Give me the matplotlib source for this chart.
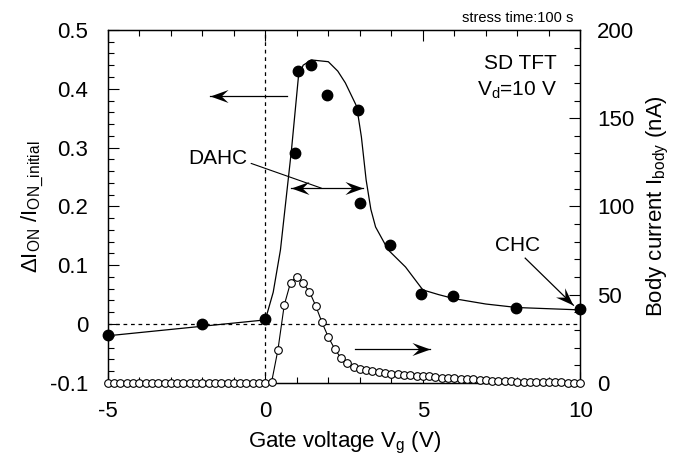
import numpy as np
import matplotlib
matplotlib.use('Agg')
import matplotlib.pyplot as plt
from matplotlib.ticker import MultipleLocator, FixedFormatter, FixedLocator
from matplotlib.path import Path
from matplotlib.markers import MarkerStyle
from matplotlib.transforms import Affine2D

plt.rcParams['font.family'] = ['Liberation Sans', 'DejaVu Sans']
plt.rcParams['mathtext.fontset'] = 'custom'
plt.rcParams['mathtext.rm'] = 'Liberation Sans'
plt.rcParams['mathtext.it'] = 'Liberation Sans:italic'
plt.rcParams['axes.unicode_minus'] = False

# degradation (left axis), measured points
vg_deg = [-5, -2, 0, 0.95, 1.05, 1.45, 1.95, 2.95, 3.0, 3.95, 4.95, 5.95, 7.95, 10]
deg = [-0.019, 0.0, 0.009, 0.291, 0.43, 0.44, 0.39, 0.364, 0.206, 0.134, 0.051, 0.048, 0.028, 0.025]

# guide curve through the degradation points
vg_fit = [-5, 0, 0.25, 0.48, 0.83, 1.05, 1.2, 1.46, 2.0, 2.3, 2.54, 2.9, 3.05, 3.2, 3.35,
          3.5, 3.9, 4.45, 5.0, 5.5, 6.0, 7.0, 8.0, 10.0]
deg_fit = [-0.02, 0.007, 0.054, 0.126, 0.296, 0.42, 0.44, 0.449, 0.446, 0.43, 0.41, 0.37,
           0.318, 0.245, 0.195, 0.165, 0.126, 0.097, 0.058, 0.05, 0.043, 0.034, 0.028, 0.024]

# body current (right axis), Vg step 0.2 V
vg_body = np.round(np.arange(-5, 10.01, 0.2), 2)
ibody = [0] * 26 + [
    0.5, 18.7, 44, 56.8, 60.2, 56.4, 51.7, 43.6, 34.2, 25.9,
    19.3, 14.0, 11.1, 9.2, 7.9, 7.2, 6.6, 6.0, 5.5, 5.1,
    4.8, 4.5, 4.2, 4.0, 3.8, 3.6, 3.3, 3.0, 2.8, 2.6,
    2.3, 2.1, 1.9, 1.7, 1.5, 1.3, 1.1, 1.0, 0.8, 0.7,
    0.6, 0.5, 0.4, 0.35, 0.3, 0.25, 0.2, 0.15, 0.1, 0.1]

fig = plt.figure(figsize=(6.74, 4.68), dpi=100)
ax = fig.add_axes([0.160, 0.182, 0.701, 0.754])
ax2 = ax.twinx()

ax.set_xlim(-5, 10)
ax.set_ylim(-0.1, 0.5)
ax2.set_ylim(0, 200)

ax.axvline(0, color='k', lw=0.9, ls=(0, (3, 3)))
ax.axhline(0, color='k', lw=0.9, ls=(0, (3, 3)))

ax.plot(vg_fit, deg_fit, color='k', lw=0.9)
ax.plot(vg_deg, deg, 'o', color='k', ms=7.5, clip_on=False, zorder=5)

ax2.plot(vg_body, ibody, '-o', color='k', lw=0.8, ms=5.5, mfc='white', mec='k',
         mew=0.8, clip_on=False, zorder=5)

# ticks
ax.xaxis.set_major_locator(MultipleLocator(5))
ax.xaxis.set_minor_locator(MultipleLocator(1))
ax.yaxis.set_major_locator(FixedLocator([-0.1, 0, 0.1, 0.2, 0.3, 0.4, 0.5]))
ax.yaxis.set_major_formatter(FixedFormatter(['-0.1', '0', '0.1', '0.2', '0.3', '0.4', '0.5']))
ax.yaxis.set_minor_locator(MultipleLocator(0.02))
ax2.yaxis.set_major_locator(MultipleLocator(50))
ax2.yaxis.set_minor_locator(MultipleLocator(10))
ax.set_xticks([-5, 0, 5, 10])
ax.set_xticklabels(['-5', '0', '5', '10'])

ax.tick_params(which='both', direction='in', top=True, labelsize=16, width=0.8)
ax.tick_params(which='major', length=8)
ax.tick_params(which='minor', length=4)
ax.tick_params(axis='y', right=False, pad=14)
ax.tick_params(axis='x', pad=13)
ax2.tick_params(which='both', direction='in', labelsize=16, width=0.8, pad=12)
ax2.tick_params(which='major', length=8)
ax2.tick_params(which='minor', length=4)

for a in (ax, ax2):
    for s in a.spines.values():
        s.set_linewidth(0.9)

ax.set_xlabel('Gate voltage V$_\\mathrm{g}$ (V)', fontsize=16, labelpad=6)
ax.set_ylabel('$\\mathit{\u0394}$I$_\\mathrm{ON}$ /I$_\\mathrm{ON\\_initial}$', fontsize=16,
              labelpad=3)
ax2.set_ylabel('Body current I$_\\mathrm{body}$ (nA)', fontsize=16, labelpad=8)

# annotations
ax.text(0.985, 1.034, 'stress time:100 s', transform=ax.transAxes, ha='right',
        va='center', fontsize=10.5)
ax.text(0.951, 0.906, 'SD TFT', transform=ax.transAxes, ha='right', va='center', fontsize=15)
ax.text(0.951, 0.830, 'V$_\\mathrm{d}$=10 V', transform=ax.transAxes, ha='right',
        va='center', fontsize=15)

head_path = Path([(0, 0), (-1, 0.36), (-0.62, 0), (-1, -0.36), (0, 0)],
                 [Path.MOVETO, Path.LINETO, Path.LINETO, Path.LINETO, Path.CLOSEPOLY])


def stealth(tail, tip, heads=(False, True)):
    p0 = ax.transData.transform(tail)
    p1 = ax.transData.transform(tip)
    ang = np.degrees(np.arctan2(p1[1] - p0[1], p1[0] - p0[0]))
    ax.plot([tail[0], tip[0]], [tail[1], tip[1]], color='k', lw=0.9)
    for pt, a, on in ((tail, ang + 180, heads[0]), (tip, ang, heads[1])):
        if on:
            m = MarkerStyle(head_path, transform=Affine2D().rotate_deg(a))
            ax.plot([pt[0]], [pt[1]], marker=m, ms=26, color='k', mew=0, ls='none')


stealth((0.7, 0.388), (-1.75, 0.388))
stealth((2.86, -0.0425), (5.24, -0.0425))
stealth((0.83, 0.231), (3.1, 0.231), heads=(True, True))

ax.annotate('DAHC', xy=(1.78, 0.231), xytext=(-1.52, 0.282), fontsize=15,
            ha='center', va='center',
            arrowprops=dict(arrowstyle='-', color='k', lw=0.8, shrinkA=1, shrinkB=0,
                            relpos=(1.0, 0.3)))
ax.text(8.0, 0.134, 'CHC', fontsize=15, ha='center', va='center')
stealth((8.25, 0.112), (9.78, 0.032))

fig.savefig('out.png', dpi=100)
